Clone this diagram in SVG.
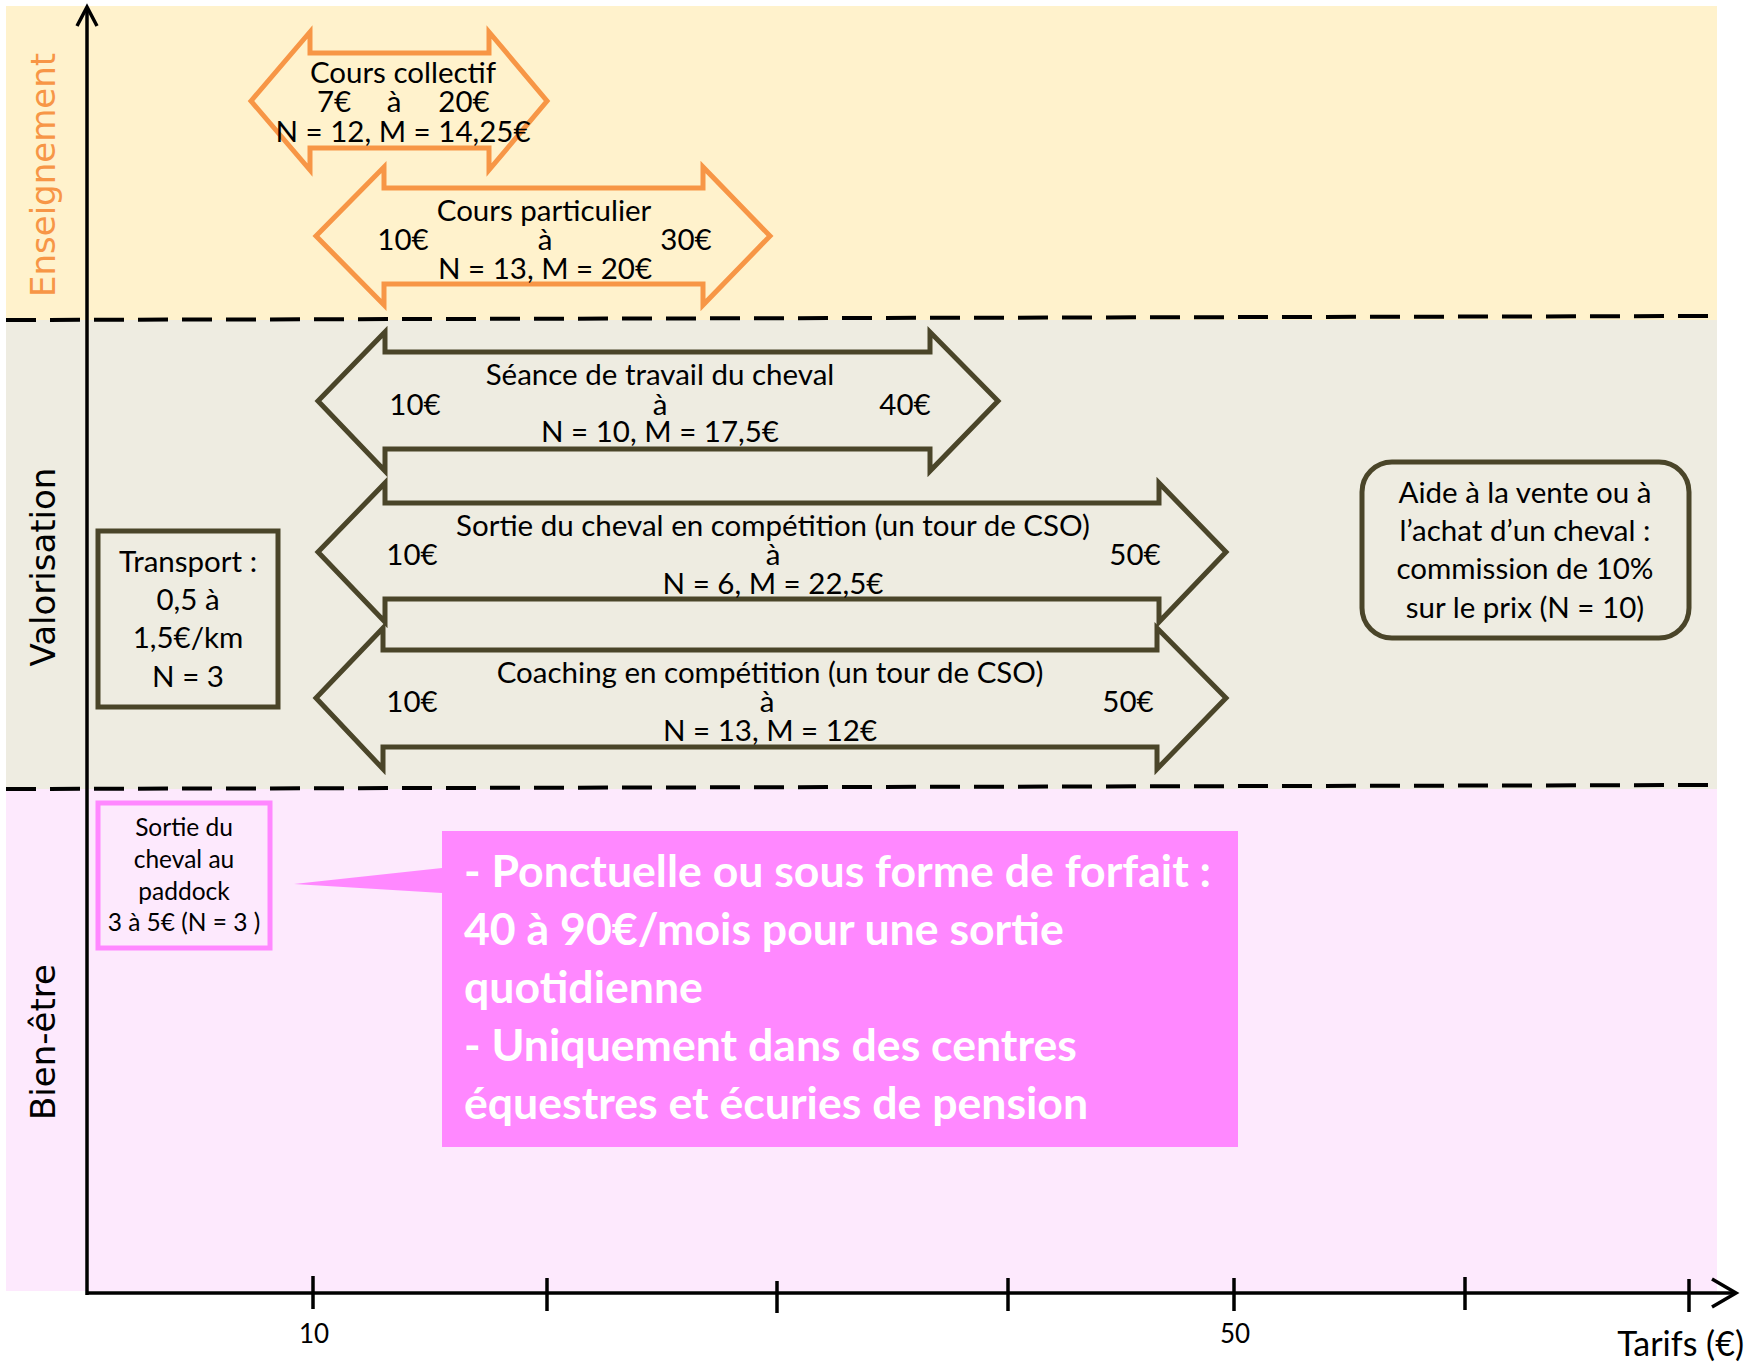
<svg xmlns="http://www.w3.org/2000/svg" width="1753" height="1366" viewBox="0 0 1753 1366">
<defs>
<style>
.t{font-family:Lato,"Liberation Sans",sans-serif;font-size:29.5px;fill:#000;text-anchor:middle}
.s{font-size:24.5px}
.cl{font-family:Lato,"Liberation Sans",sans-serif;font-size:44.6px;font-weight:bold;fill:#fff}
.side{font-family:"DejaVu Sans",sans-serif;font-size:34px;text-anchor:middle}
.oa{fill:none;stroke:#F79646;stroke-width:5;stroke-linejoin:miter}
.da{fill:none;stroke:#4A4529;stroke-width:5;stroke-linejoin:miter}
.dash{stroke:#000;stroke-width:4;stroke-dasharray:30 14;fill:none}
.ax{stroke:#000;fill:none;stroke-width:3.5}
.tick{stroke:#000;stroke-width:3.5}
</style>
</defs>
<g id="bands">
<rect x="6" y="6" width="1711" height="314" fill="#FFF2CC"/>
<rect x="6" y="320" width="1711" height="469" fill="#EEECE1"/>
<rect x="6" y="789" width="1711" height="502" fill="#FDE9FD"/>
</g>
<g id="separators">
<line class="dash" x1="6" y1="320" x2="1716" y2="316"/>
<line class="dash" x1="6" y1="789" x2="1716" y2="785"/>
</g>
<g id="labels">
<text class="side" fill="#F79646" transform="translate(55,175) rotate(-90)">Enseignement</text>
<text class="side" fill="#000" transform="translate(55,567) rotate(-90)">Valorisation</text>
<text class="side" fill="#000" transform="translate(55,1042) rotate(-90)">Bien-être</text>
</g>
<g id="axes">
<line class="ax" x1="87" y1="1295" x2="87" y2="7"/>
<polyline class="ax" points="77,26 87,7 97,26"/>
<line class="ax" x1="86" y1="1293" x2="1736" y2="1293" stroke-width="4.5"/>
<polyline class="ax" points="1712,1279 1736,1293 1712,1307"/>
<line class="tick" x1="313" y1="1276" x2="313" y2="1309"/>
<line class="tick" x1="547" y1="1278" x2="547" y2="1311"/>
<line class="tick" x1="777" y1="1281" x2="777" y2="1313"/>
<line class="tick" x1="1008" y1="1278" x2="1008" y2="1311"/>
<line class="tick" x1="1234" y1="1278" x2="1234" y2="1311"/>
<line class="tick" x1="1465" y1="1277" x2="1465" y2="1310"/>
<line class="tick" x1="1689" y1="1279" x2="1689" y2="1312"/>
<text class="t" style="font-size:26px" x="314" y="1343">10</text>
<text class="t" style="font-size:26px" x="1235" y="1343">50</text>
<text class="t" style="font-size:34px;text-anchor:end" x="1744" y="1356">Tarifs (€)</text>
</g>
<g id="cours-collectif">
<path class="oa" d="M251,101 L310,32 L310,53 L489,53 L489,32 L547,101 L489,170 L489,148 L310,148 L310,170 Z"/>
<text class="t" x="403" y="83">Cours collectif</text>
<text class="t" x="334" y="112">7€</text>
<text class="t" x="394" y="112">à</text>
<text class="t" x="464" y="112">20€</text>
<text class="t" x="403" y="142">N = 12, M = 14,25€</text>
</g>
<g id="cours-particulier">
<path class="oa" d="M316,236 L384,167 L384,188 L703,188 L703,167 L770,236 L703,305 L703,284 L384,284 L384,305 Z"/>
<text class="t" x="544" y="221">Cours particulier</text>
<text class="t" x="403" y="250">10€</text>
<text class="t" x="545" y="250">à</text>
<text class="t" x="686" y="250">30€</text>
<text class="t" x="545" y="279">N = 13, M = 20€</text>
</g>
<g id="seance-travail">
<path class="da" d="M318,401 L385,332 L385,352 L930,352 L930,332 L998,401 L930,471 L930,449 L385,449 L385,471 Z"/>
<text class="t" x="660" y="385">Séance de travail du cheval</text>
<text class="t" x="415" y="415">10€</text>
<text class="t" x="660" y="415">à</text>
<text class="t" x="905" y="415">40€</text>
<text class="t" x="660" y="442">N = 10, M = 17,5€</text>
</g>
<g id="sortie-competition">
<path class="da" d="M318,552 L385,483 L385,503 L1159,503 L1159,483 L1226,552 L1159,622 L1159,599 L385,599 L385,622 Z"/>
<text class="t" x="773" y="536">Sortie du cheval en compétition (un tour de CSO)</text>
<text class="t" x="412" y="565">10€</text>
<text class="t" x="773" y="565">à</text>
<text class="t" x="1135" y="565">50€</text>
<text class="t" x="773" y="594">N = 6, M = 22,5€</text>
</g>
<g id="coaching-competition">
<path class="da" d="M316,698 L383,628 L383,650 L1157,650 L1157,628 L1226,698 L1157,769 L1157,747 L383,747 L383,769 Z"/>
<text class="t" x="770" y="683">Coaching en compétition (un tour de CSO)</text>
<text class="t" x="412" y="712">10€</text>
<text class="t" x="767" y="712">à</text>
<text class="t" x="1128" y="712">50€</text>
<text class="t" x="770" y="741">N = 13, M = 12€</text>
</g>
<g id="transport">
<rect x="98" y="531" width="180" height="176" fill="none" stroke="#4A4529" stroke-width="5"/>
<text class="t" x="188" y="572">Transport :</text>
<text class="t" x="188" y="610">0,5 à</text>
<text class="t" x="188" y="648">1,5€/km</text>
<text class="t" x="188" y="687">N = 3</text>
</g>
<g id="aide-vente">
<rect x="1362" y="462" width="327" height="176" rx="30" ry="30" fill="none" stroke="#4A4529" stroke-width="5"/>
<text class="t" x="1525" y="503">Aide à la vente ou à</text>
<text class="t" x="1525" y="541">l’achat d’un cheval :</text>
<text class="t" x="1525" y="579">commission de 10%</text>
<text class="t" x="1525" y="618">sur le prix (N = 10)</text>
</g>
<g id="sortie-paddock">
<rect x="98" y="803" width="172" height="145" fill="none" stroke="#FF88FF" stroke-width="5"/>
<text class="t s" x="184" y="836">Sortie du</text>
<text class="t s" x="184" y="868">cheval au</text>
<text class="t s" x="184" y="900">paddock</text>
<text class="t s" x="184" y="931">3 à 5€ (N = 3 )</text>
</g>
<g id="callout">
<path d="M442,831 L1238,831 L1238,1147 L442,1147 L442,893 L294,884 L442,868 Z" fill="#FF88FF"/>
<text class="cl" x="464" y="887">- Ponctuelle ou sous forme de forfait :</text>
<text class="cl" x="464" y="945">40 à 90€/mois pour une sortie</text>
<text class="cl" x="464" y="1003">quotidienne</text>
<text class="cl" x="464" y="1061">- Uniquement dans des centres</text>
<text class="cl" x="464" y="1119">équestres et écuries de pension</text>
</g>
</svg>
